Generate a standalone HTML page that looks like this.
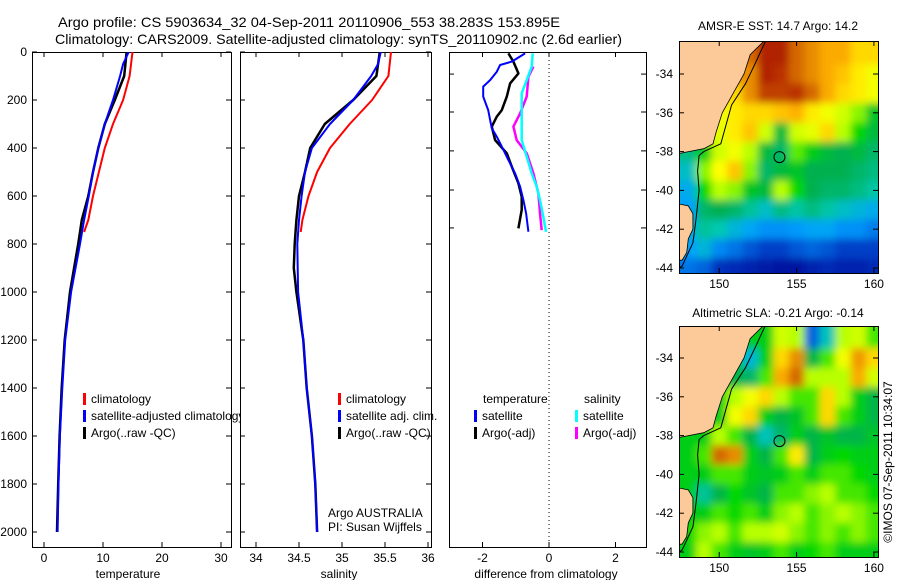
<!DOCTYPE html>
<html><head><meta charset="utf-8"><style>
html,body{margin:0;padding:0;background:#fff;width:900px;height:580px;overflow:hidden}
svg{display:block;font-family:"Liberation Sans",sans-serif}
</style></head><body>
<svg id="fig" width="900" height="580" viewBox="0 0 900 580">
<defs>
<filter id="blur" x="-5%" y="-5%" width="110%" height="110%"><feGaussianBlur stdDeviation="4"/></filter>
<clipPath id="cp1"><rect x="32" y="52" width="199" height="495"/></clipPath>
<clipPath id="cp2"><rect x="240" y="52" width="191" height="495"/></clipPath>
<clipPath id="cp3"><rect x="449" y="52" width="197" height="495"/></clipPath>
<clipPath id="cm1"><rect x="679" y="41" width="199" height="232"/></clipPath>
<clipPath id="cm2"><rect x="679" y="326" width="199" height="231"/></clipPath>
</defs>
<g id="root"></g>
</svg>
<script>
// ---------- data ----------
const depthTicks=[0,200,400,600,800,1000,1200,1400,1600,1800,2000];
const tempTicks=[0,10,20,30];
const salTicks=[34,34.5,35,35.5,36];
const salTickLabels=['34','34.5','35','35.5','36'];
const diffTicks=[-2,0,2];
const diffDepthTicks=[92,250,412,575,733];

const climDepth=[0,100,200,300,400,500,600,700,750];
const climTemp=[15.0,14.5,13.4,11.7,10.3,9.3,8.3,7.5,6.8];
const climSal=[35.57,35.54,35.35,35.09,34.86,34.71,34.61,34.54,34.52];

const satDepth=[0,50,100,200,300,400,500,600,700,800,1000,1200,1400,1600,1800,2000];
const satTemp=[14.35,13.4,12.9,11.7,10.3,9.2,8.3,7.6,6.8,6.1,4.6,3.6,3.1,2.7,2.45,2.3];
const satSal=[35.45,35.42,35.34,35.13,34.86,34.65,34.57,34.53,34.50,34.48,34.49,34.55,34.59,34.65,34.69,34.71];

const argoDepth=[0,100,200,300,400,500,600,700,800,900,1000,1200,1400,1600,1800,2000];
const argoTemp=[14.0,13.6,12.0,10.3,9.2,8.3,7.5,6.4,5.8,5.1,4.4,3.5,3.0,2.65,2.4,2.2];
const argoSal=[35.44,35.40,35.13,34.80,34.63,34.57,34.50,34.47,34.45,34.44,34.47,34.55,34.59,34.65,34.69,34.71];

const dTsatDepth=[6,40,54,82,117,144,186,242,283,318,353,394,450,506,561,617,672,749];
const dTsat=[-0.72,-1.12,-1.47,-1.57,-1.77,-1.98,-1.98,-1.83,-1.77,-1.72,-1.57,-1.42,-1.22,-1.02,-0.87,-0.77,-0.69,-0.62];
const dTargoDepth=[6,40,89,131,186,242,269,311,367,422,478,547,603,658,735];
const dTargo=[-1.22,-1.07,-0.92,-1.17,-1.27,-1.42,-1.57,-1.72,-1.62,-1.27,-1.12,-0.92,-0.82,-0.82,-0.92];
const dSsatDepth=[6,61,117,172,256,367,436,506,561,617,686,749];
const dSsat=[-0.49,-0.52,-0.67,-0.82,-0.82,-0.82,-0.67,-0.52,-0.37,-0.27,-0.17,-0.09];
const dSargoDepth=[61,103,186,256,311,367,422,506,589,672,742];
const dSargo=[-0.47,-0.62,-0.67,-0.87,-1.07,-0.97,-0.67,-0.47,-0.32,-0.27,-0.22];

const mapLons=[148,149,150,151,152,153,154,155,156,157,158,159,160];
const mapLats=[-33,-34,-35,-36,-37,-38,-39,-40,-41,-42,-43,-44];
const sstGrid=[
[0.7,0.7,0.75,0.8,0.85,0.95,0.95,0.85,0.8,0.75,0.75,0.7,0.7],
[0.75,0.75,0.75,0.78,0.8,0.95,0.92,0.85,0.8,0.75,0.72,0.68,0.65],
[0.7,0.7,0.7,0.7,0.8,0.9,0.9,0.92,0.85,0.75,0.7,0.68,0.65],
[0.62,0.62,0.65,0.68,0.7,0.7,0.72,0.74,0.68,0.65,0.62,0.58,0.48],
[0.55,0.6,0.64,0.68,0.72,0.62,0.46,0.62,0.64,0.7,0.6,0.52,0.46],
[0.4,0.5,0.62,0.65,0.6,0.46,0.42,0.56,0.5,0.46,0.44,0.46,0.42],
[0.34,0.58,0.66,0.72,0.58,0.42,0.46,0.48,0.44,0.44,0.44,0.42,0.4],
[0.3,0.52,0.6,0.58,0.48,0.46,0.6,0.52,0.44,0.42,0.42,0.4,0.37],
[0.28,0.42,0.44,0.42,0.38,0.34,0.4,0.37,0.4,0.37,0.34,0.32,0.3],
[0.3,0.38,0.36,0.32,0.29,0.26,0.26,0.27,0.29,0.29,0.26,0.26,0.23],
[0.28,0.32,0.25,0.22,0.18,0.15,0.15,0.18,0.2,0.18,0.15,0.15,0.15],
[0.22,0.2,0.12,0.1,0.08,0.06,0.05,0.05,0.08,0.1,0.08,0.08,0.1]];
const slaGrid=[
[0.5,0.5,0.5,0.5,0.5,0.5,0.62,0.6,0.2,0.35,0.6,0.62,0.55],
[0.5,0.5,0.5,0.5,0.32,0.5,0.7,0.8,0.45,0.55,0.65,0.78,0.7],
[0.5,0.5,0.5,0.45,0.42,0.55,0.75,0.85,0.6,0.6,0.6,0.75,0.62],
[0.5,0.5,0.5,0.6,0.65,0.7,0.6,0.55,0.55,0.7,0.6,0.5,0.45],
[0.5,0.5,0.5,0.65,0.7,0.5,0.45,0.48,0.55,0.7,0.55,0.5,0.45],
[0.5,0.5,0.6,0.55,0.45,0.35,0.42,0.5,0.45,0.48,0.45,0.45,0.48],
[0.5,0.55,0.85,0.8,0.5,0.45,0.55,0.68,0.45,0.5,0.52,0.5,0.5],
[0.5,0.5,0.55,0.55,0.5,0.48,0.5,0.55,0.5,0.55,0.55,0.52,0.5],
[0.5,0.38,0.45,0.52,0.48,0.45,0.55,0.55,0.58,0.6,0.55,0.55,0.52],
[0.5,0.5,0.55,0.52,0.55,0.5,0.58,0.6,0.55,0.58,0.6,0.58,0.55],
[0.52,0.58,0.6,0.55,0.6,0.6,0.62,0.58,0.55,0.58,0.55,0.58,0.55],
[0.5,0.6,0.55,0.5,0.48,0.5,0.55,0.5,0.52,0.55,0.5,0.5,0.5]];
const mainland=[[152.9,-32.3],[152.0,-33.0],[151.6,-34.0],[150.9,-35.0],[150.2,-36.0],[149.8,-37.0],[149.6,-37.6],[149.0,-37.85],[147.4,-38.1],[147.4,-32.3]];
const tasmania=[[147.4,-40.7],[148.0,-40.8],[148.3,-41.2],[148.3,-42.0],[148.0,-42.5],[147.9,-43.2],[147.6,-43.6],[147.4,-43.6]];
const isobath=[[153.0,-32.3],[152.3,-33.5],[151.7,-34.5],[150.8,-35.6],[150.1,-37.6],[149.0,-38.0],[148.7,-38.2],[148.6,-39],[148.7,-40],[148.5,-41.5],[148.3,-42.7],[147.6,-43.9],[147.4,-44.0]];
const floatPos=[153.895,-38.283];
const latTicks=[-34,-36,-38,-40,-42,-44];
const lonTicks=[150,155,160];

// ---------- helpers ----------
const NS='http://www.w3.org/2000/svg';
const root=document.getElementById('root');
function mk(tag,attrs,parent){const e=document.createElementNS(NS,tag);for(const k in attrs)e.setAttribute(k,attrs[k]);(parent||root).appendChild(e);return e;}
function txt(s,x,y,opts,parent){const e=mk('text',Object.assign({x:x,y:y,'font-size':12,fill:'#000'},opts||{}),parent);e.textContent=s;return e;}
const yD=d=>52+d*0.24;
const xT=t=>44+t*5.9;
const xS=s=>256+(s-34)*86;
const xDf=v=>549+v*33.25;
const mx=lon=>679+(lon-147.4)*15.47;
const my1=lat=>74+(-34-lat)*19.4;
const my2=lat=>358+(-34-lat)*19.4;

// ---------- titles ----------
let t=txt('Argo profile: CS 5903634_32 04-Sep-2011 20110906_553 38.283S 153.895E',58,27,{'font-size':14,textLength:502,lengthAdjust:'spacingAndGlyphs'});

t=txt('Climatology: CARS2009. Satellite-adjusted climatology: synTS_20110902.nc (2.6d earlier)',55,44,{'font-size':14,textLength:567,lengthAdjust:'spacingAndGlyphs'});


// ---------- profile panels ----------
function panel(name,x0,w,xf,ticks,labels,xtitle,xtc){
  const g=mk('g',{});
  
  
  const r=mk('rect',{x:x0+0.5,y:52.5,width:w,height:495,fill:'#fff',stroke:'#000','stroke-width':1},g);
  
  ticks.forEach((v,i)=>{const x=xf(v);
    mk('line',{x1:x,y1:52,x2:x,y2:57,stroke:'#000'},g);
    mk('line',{x1:x,y1:547,x2:x,y2:542,stroke:'#000'},g);
    const l=txt(labels[i],x,562,{'text-anchor':'middle'},g);
    
  });
  const tt=txt(xtitle,xtc,578,{'text-anchor':'middle'},g);
  
  return g;
}
function depthTickMarks(g,x0,w,ticks){ticks.forEach(d=>{const y=yD(d);
  mk('line',{x1:x0,y1:y,x2:x0+5,y2:y,stroke:'#000'},g);
  mk('line',{x1:x0+w,y1:y,x2:x0+w-5,y2:y,stroke:'#000'},g);});}
function line(g,xs,ds,fx,color,w,name,clip){
  const p=mk('polyline',{points:xs.map((v,i)=>fx(v).toFixed(1)+','+yD(ds[i]).toFixed(1)).join(' '),fill:'none',stroke:color,'stroke-width':w,'stroke-linejoin':'round','clip-path':'url(#'+clip+')'},g);
  
}
function legend(g,x,y,color,label,name){
  mk('rect',{x:x,y:y-10,width:3,height:12,fill:color},g);
  const e=txt(label,x+8,y,{},g);
  
}

// panel 1
const g1=panel('temperature-panel',32,199,xT,tempTicks,tempTicks.map(String),'temperature',128);
depthTickMarks(g1,32,199,depthTicks);
depthTicks.forEach(d=>{const l=txt(String(d),27,yD(d)+4,{'text-anchor':'end'},g1);
  });
line(g1,argoTemp,argoDepth,xT,'#000',2.5,'argo-temperature-line','cp1');
line(g1,climTemp,climDepth,xT,'#f00',2,'climatology-temperature-line','cp1');
line(g1,satTemp,satDepth,xT,'#00f',2,'satellite-temperature-line','cp1');
legend(g1,83,403,'#f00','climatology','legend-climatology');
legend(g1,83,420,'#00f','satellite-adjusted climatology','legend-satellite-adjusted');
legend(g1,83,437,'#000','Argo(..raw -QC)','legend-argo');

// panel 2
const g2=panel('salinity-panel',240,191,xS,salTicks,salTickLabels,'salinity',339);
depthTickMarks(g2,240,191,depthTicks);
line(g2,argoSal,argoDepth,xS,'#000',2.5,'argo-salinity-line','cp2');
line(g2,climSal,climDepth,xS,'#f00',2,'climatology-salinity-line','cp2');
line(g2,satSal,satDepth,xS,'#00f',2,'satellite-salinity-line','cp2');
legend(g2,338,403,'#f00','climatology','legend-climatology-sal');
legend(g2,338,420,'#00f','satellite adj. clim.','legend-satellite-sal');
legend(g2,338,437,'#000','Argo(..raw -QC)','legend-argo-sal');
let e=txt('Argo AUSTRALIA',328,517,{},g2);
e=txt('PI: Susan Wijffels',328,531,{},g2);

// panel 3
const g3=panel('difference-panel',449,197,xDf,diffTicks,diffTicks.map(String),'difference from climatology',546);
depthTickMarks(g3,449,197,diffDepthTicks);
mk('line',{x1:xDf(0),y1:52,x2:xDf(0),y2:547,stroke:'#000','stroke-dasharray':'1,3'},g3);
line(g3,dSargo,dSargoDepth,xDf,'#f0f',2.5,'salinity-argo-diff-line','cp3');
line(g3,dSsat,dSsatDepth,xDf,'#0ff',2.5,'salinity-satellite-diff-line','cp3');
line(g3,dTargo,dTargoDepth,xDf,'#000',2.5,'temperature-argo-diff-line','cp3');
line(g3,dTsat,dTsatDepth,xDf,'#00f',2,'temperature-satellite-diff-line','cp3');
e=txt('temperature',483,403,{},g3);
e=txt('salinity',584,403,{},g3);
legend(g3,474,420,'#00f','satellite','legend-temp-satellite');
legend(g3,474,437,'#000','Argo(-adj)','legend-temp-argo');
legend(g3,575,420,'#0ff','satellite','legend-sal-satellite');
legend(g3,575,437,'#f0f','Argo(-adj)','legend-sal-argo');

// ---------- maps ----------
const sstStops=[[0,'#00008f'],[0.15,'#0040c8'],[0.28,'#00a0ff'],[0.36,'#00c8b0'],[0.44,'#00b050'],[0.52,'#00d800'],[0.6,'#b8ff00'],[0.66,'#ffff00'],[0.74,'#ffb000'],[0.82,'#e08000'],[0.9,'#c04000'],[1,'#a00000']];
function hex(h){return [1,3,5].map(i=>parseInt(h.substr(i,2),16));}
function cmap(v){v=Math.max(0,Math.min(1,v));for(let i=1;i<sstStops.length;i++){if(v<=sstStops[i][0]){const a=sstStops[i-1],b=sstStops[i];const f=(v-a[0])/(b[0]-a[0]);const A=hex(a[1]),B=hex(b[1]);return 'rgb('+A.map((c,k)=>Math.round(c+(B[k]-c)*f)).join(',')+')';}}return sstStops[sstStops.length-1][1];}
function drawMap(name,grid,my,top,h,clip,title,titleY,labY){
  const g=mk('g',{});
  
  
  const cg=mk('g',{'clip-path':'url(#'+clip+')'},g);
  const hg=mk('g',{filter:'url(#blur)'},cg);
  mapLats.forEach((lat,r)=>mapLons.forEach((lon,c)=>{
    const l0=c===0?lon-2:lon-0.5, l1=c===mapLons.length-1?lon+2:lon+0.5;
    const a0=r===0?lat+2:lat+0.5, a1=r===mapLats.length-1?lat-2:lat-0.5;
    const cell=mk('rect',{x:mx(l0),y:my(a0),width:mx(l1)-mx(l0)+0.6,height:my(a1)-my(a0)+0.6,fill:cmap(grid[r][c])},hg);
    
    
  }));
  const pts=arr=>arr.map(p=>mx(p[0]).toFixed(1)+','+my(p[1]).toFixed(1)).join(' ');
  let p=mk('polygon',{points:pts(mainland),fill:'#fbca98',stroke:'#000','stroke-width':0.8},cg);
  
  p=mk('polygon',{points:pts(tasmania),fill:'#fbca98',stroke:'#000','stroke-width':0.8},cg);
  
  p=mk('polyline',{points:pts(isobath),fill:'none',stroke:'#000','stroke-width':1},cg);
  
  const c=mk('circle',{cx:mx(floatPos[0]),cy:my(floatPos[1]),r:5.5,fill:'none',stroke:'#000','stroke-width':1},g);
  
  mk('rect',{x:679.5,y:top+0.5,width:199,height:h,fill:'none',stroke:'#000'},g);
  latTicks.forEach(lat=>{const y=my(lat);
    mk('line',{x1:679,y1:y,x2:684,y2:y,stroke:'#000'},g);mk('line',{x1:878,y1:y,x2:873,y2:y,stroke:'#000'},g);
    const l=txt(String(lat),673,y+4,{'text-anchor':'end'},g);});
  lonTicks.forEach(lon=>{const x=mx(lon);
    mk('line',{x1:x,y1:top,x2:x,y2:top+5,stroke:'#000'},g);mk('line',{x1:x,y1:top+h,x2:x,y2:top+h-5,stroke:'#000'},g);
    const l=txt(String(lon),x,labY,{'text-anchor':'middle'},g);});
  const tt=txt(title,778,titleY,{'text-anchor':'middle'},g);
  
}
drawMap('sst-map',sstGrid,my1,41,232,'cm1','AMSR-E SST: 14.7 Argo: 14.2',30,288);
drawMap('sla-map',slaGrid,my2,326,231,'cm2','Altimetric SLA: -0.21 Argo: -0.14',317,572);
e=txt('©IMOS 07-Sep-2011 10:34:07',0,0,{'text-anchor':'middle',transform:'translate(892,462) rotate(-90)'});

</script>
</body></html>
